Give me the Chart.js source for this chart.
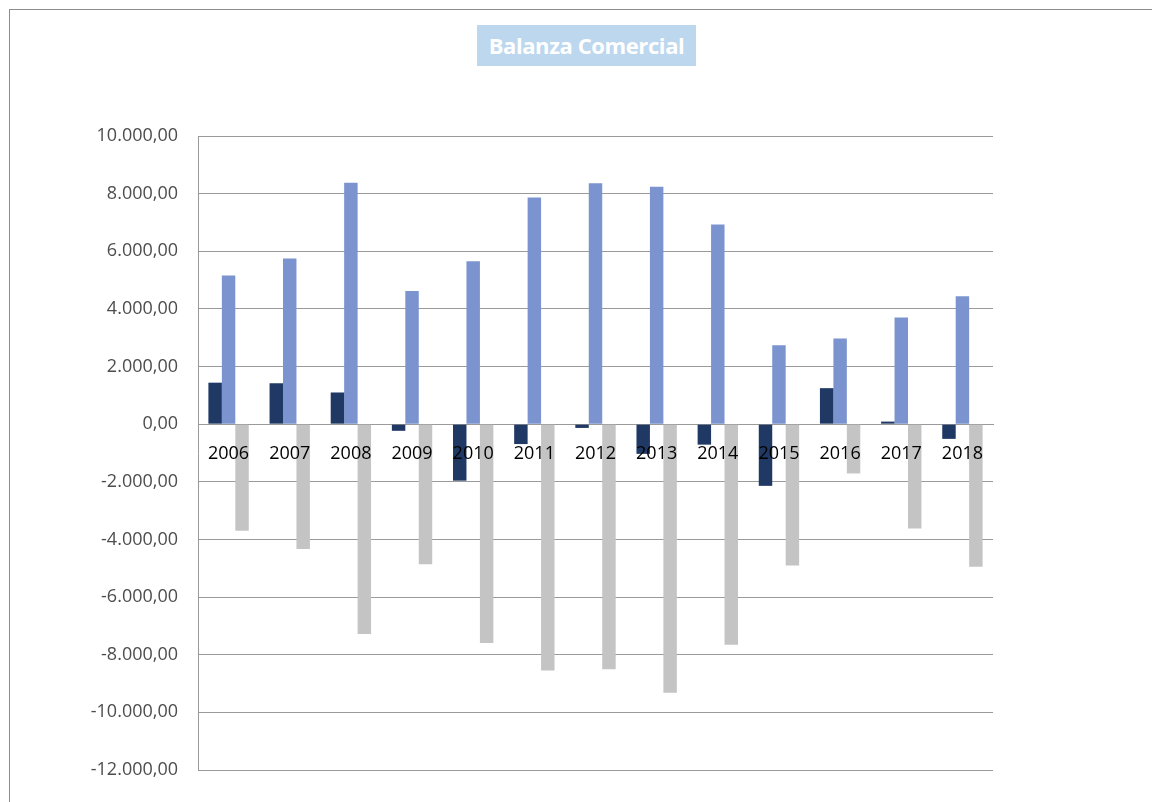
<!DOCTYPE html>
<html>
<head>
<meta charset="utf-8">
<script src="https://cdn.jsdelivr.net/npm/chart.js@4"></script>
<style>
  html, body { margin: 0; padding: 0; background: #fff; overflow: hidden; }
  #wrap { position: relative; width: 1152px; height: 802px; }
  #frame { position: absolute; left: 9px; top: 9px; width: 1200px; height: 900px;
           border-left: 1px solid #8c8c8c; border-top: 1px solid #8c8c8c; }
  #title { position: absolute; left: 477px; top: 25px; width: 219px; height: 41px;
           background: #bdd7ee; color: #fff; font: bold 22px "Open Sans", sans-serif;
           line-height: 41px; text-align: center; letter-spacing: -0.4px; }
  canvas { position: absolute; left: 0; top: 0; }
</style>
</head>
<body>
<div id="wrap">
  <div id="frame"></div>
  <div id="title">Balanza Comercial</div>
  <canvas id="chartBalanza" width="1152" height="802"></canvas>
</div>
<script>
const years = ['2006', '2007', '2008', '2009', '2010', '2011', '2012', '2013', '2014', '2015', '2016', '2017', '2018'];
const balanza = [1440, 1420, 1100, -230, -1960, -690, -130, -1030, -710, -2140, 1250, 90, -510];
const exportaciones = [5160, 5750, 8380, 4620, 5650, 7870, 8360, 8240, 6930, 2740, 2970, 3700, 4440];
const importaciones = [-3700, -4330, -7280, -4860, -7590, -8550, -8500, -9320, -7650, -4900, -1710, -3620, -4950];
const yTicks = [-12000, -10000, -8000, -6000, -4000, -2000, 0, 2000, 4000, 6000, 8000, 10000];

const GRID = '#9a9a9a';

// 10000 -> "10.000,00"
function fmt(v) {
  const neg = v < 0;
  const s = Math.abs(v).toFixed(0).replace(/\B(?=(\d{3})+(?!\d))/g, '.');
  return (neg ? '-' : '') + s + ',00';
}

new Chart(document.getElementById('chartBalanza'), {
  type: 'bar',
  data: {
    labels: years,
    datasets: [
      { label: 'Balanza', data: balanza, backgroundColor: '#1f3864' },
      { label: 'Exportaciones', data: exportaciones, backgroundColor: '#7b94cf' },
      { label: 'Importaciones', data: importaciones, backgroundColor: '#c4c4c4' },
    ],
  },
  options: {
    responsive: false,
    animation: false,
    categoryPercentage: 0.66,
    barPercentage: 1,
    layout: { padding: { left: 10, top: 136, right: 159, bottom: 32 } },
    plugins: {
      legend: { display: false },
      title: { display: false },
      tooltip: { enabled: false },
    },
    scales: {
      x: {
        position: { y: 0 },
        grid: { display: false },
        border: { display: true, color: GRID, width: 1 },
        // year labels sit on the zero line, drawn over the bars
        ticks: { z: 1, color: '#000', padding: 11, font: { family: 'Open Sans', size: 18 } },
      },
      y: {
        min: Math.min(...yTicks),
        max: Math.max(...yTicks),
        afterBuildTicks: s => { s.ticks = yTicks.map(v => ({ value: v })); },
        afterFit: s => { s.width = 188; },
        grid: { color: GRID, drawTicks: false },
        border: { color: GRID },
        ticks: {
          color: '#4d4d4d',
          padding: 20,
          font: { family: 'Open Sans', size: 18 },
          callback: v => fmt(v),
        },
      },
    },
  },
});
</script>
</body>
</html>
